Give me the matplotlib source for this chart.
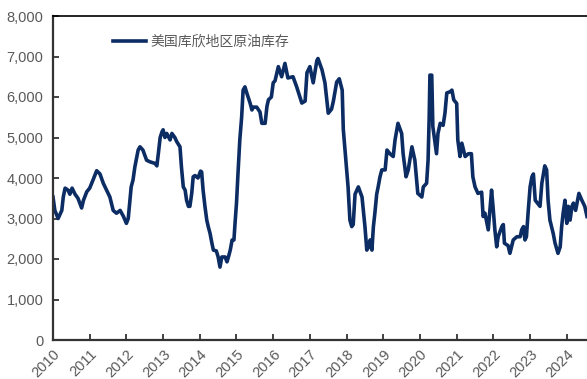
import matplotlib.pyplot as plt
from matplotlib.ticker import FuncFormatter

# 美国库欣地区原油库存 (decimal years)
years = [
    2010.00, 2010.05, 2010.14, 2010.24, 2010.28, 2010.33, 2010.41, 2010.46, 2010.52, 2010.60,
    2010.68, 2010.78, 2010.83, 2010.92, 2011.00, 2011.09, 2011.19, 2011.28, 2011.37, 2011.46,
    2011.55, 2011.64, 2011.73, 2011.83, 2011.92, 2012.00, 2012.05, 2012.08, 2012.13, 2012.18,
    2012.23, 2012.32, 2012.37, 2012.45, 2012.55, 2012.64, 2012.78, 2012.83, 2012.87, 2012.92,
    2012.97, 2013.00, 2013.05, 2013.10, 2013.19, 2013.24, 2013.32, 2013.37, 2013.46, 2013.50,
    2013.55, 2013.60, 2013.64, 2013.69, 2013.73, 2013.78, 2013.82, 2013.87, 2013.95, 2014.02,
    2014.05, 2014.09, 2014.14, 2014.19, 2014.23, 2014.28, 2014.33, 2014.37, 2014.45, 2014.50,
    2014.55, 2014.60, 2014.69, 2014.74, 2014.78, 2014.83, 2014.88, 2014.93, 2014.96, 2015.00,
    2015.04, 2015.09, 2015.14, 2015.18, 2015.23, 2015.28, 2015.37, 2015.42, 2015.46, 2015.55,
    2015.64, 2015.69, 2015.78, 2015.83, 2015.87, 2015.95, 2016.00, 2016.05, 2016.14, 2016.23,
    2016.32, 2016.40, 2016.54, 2016.64, 2016.78, 2016.87, 2016.92, 2017.00, 2017.09, 2017.19,
    2017.22, 2017.33, 2017.41, 2017.50, 2017.59, 2017.64, 2017.73, 2017.80, 2017.88, 2017.91,
    2017.95, 2018.04, 2018.09, 2018.14, 2018.18, 2018.23, 2018.32, 2018.42, 2018.50, 2018.55,
    2018.60, 2018.64, 2018.69, 2018.73, 2018.77, 2018.82, 2018.86, 2018.91, 2018.96, 2019.05,
    2019.10, 2019.18, 2019.27, 2019.32, 2019.40, 2019.50, 2019.54, 2019.62, 2019.68, 2019.78,
    2019.86, 2019.94, 2020.05, 2020.09, 2020.18, 2020.22, 2020.25, 2020.27, 2020.32, 2020.35,
    2020.45, 2020.49, 2020.55, 2020.63, 2020.68, 2020.73, 2020.82, 2020.87, 2020.92, 2021.00,
    2021.03, 2021.09, 2021.14, 2021.23, 2021.32, 2021.40, 2021.44, 2021.50, 2021.58, 2021.68,
    2021.72, 2021.77, 2021.86, 2021.95, 2021.99, 2022.04, 2022.09, 2022.13, 2022.23, 2022.27,
    2022.30, 2022.40, 2022.45, 2022.54, 2022.64, 2022.73, 2022.77, 2022.82, 2022.86, 2022.90,
    2022.95, 2023.00, 2023.05, 2023.09, 2023.14, 2023.27, 2023.32, 2023.40, 2023.45, 2023.49,
    2023.54, 2023.63, 2023.68, 2023.76, 2023.82, 2023.86, 2023.90, 2023.95, 2024.00, 2024.04,
    2024.09, 2024.14, 2024.18, 2024.24, 2024.33, 2024.41, 2024.49, 2024.55,
]
stocks = [
    3530, 3200, 3000, 3200, 3530, 3750, 3700, 3600, 3750, 3600,
    3500, 3260, 3450, 3660, 3750, 3950, 4180, 4100, 3870, 3700,
    3530, 3200, 3130, 3200, 3050, 2880, 3000, 3300, 3780, 3950,
    4270, 4690, 4770, 4690, 4440, 4400, 4360, 4300, 4600, 5000,
    5140, 5190, 5000, 5100, 4940, 5100, 5000, 4900, 4770, 4270,
    3780, 3700, 3450, 3300, 3300, 3620, 4030, 4060, 4000, 4170,
    4150, 3700, 3300, 2960, 2800, 2630, 2390, 2220, 2200, 2050,
    1800, 2050, 2050, 1930, 2050, 2220, 2470, 2470, 2880, 3380,
    4100, 4940, 5500, 6170, 6250, 6100, 5850, 5680, 5750, 5750,
    5630, 5350, 5350, 5770, 5930, 6000, 6350, 6400, 6750, 6500,
    6830, 6470, 6500, 6250, 5850, 5900, 6600, 6750, 6350, 6900,
    6950, 6670, 6350, 5600, 5700, 5900, 6370, 6450, 6170, 5200,
    4770, 3780, 2960, 2800, 2850, 3600, 3780, 3530, 2800, 2220,
    2300, 2470, 2220, 2800, 3130, 3600, 3780, 4030, 4200, 4200,
    4690, 4600, 4530, 4940, 5350, 5100, 4600, 4030, 4200, 4770,
    4440, 3620, 3530, 3780, 3870, 4440, 5500, 6540, 6540, 5270,
    4600, 5100, 5350, 5300, 5600, 6100, 6130, 6170, 5930, 5840,
    4940, 4530, 4860, 4530, 4600, 4600, 4030, 3780, 3620, 3650,
    3050, 3130, 2720, 3700, 3290, 2720, 2300, 2550, 2800, 2850,
    2390, 2330, 2140, 2470, 2550, 2550, 2720, 2800, 2470, 2550,
    3200, 3780, 4030, 4100, 3450, 3300, 3870, 4300, 4200, 3450,
    2960, 2630, 2390, 2140, 2300, 2800, 3130, 3450, 2880, 3300,
    2960, 3300, 3380, 3200, 3620, 3450, 3300, 3050,
]
year_ticks = list(range(2010, 2025))
y_ticks = list(range(0, 8001, 1000))

plt.rcParams['font.family'] = ['Liberation Sans', 'Noto Sans CJK SC', 'DejaVu Sans']

fig = plt.figure(figsize=(5.87, 3.79), dpi=100)
ax = fig.add_axes([53 / 587, 1 - 340 / 379, 1 - 53 / 587, 324 / 379])

ax.plot(years, stocks, color='#0c2c64', lw=2.6, label='美国库欣地区原油库存')

ax.set_xlim(2010, 2010 + 534 / 36.7)
ax.set_ylim(0, 8000)
ax.set_xticks(year_ticks)
ax.set_xticklabels([str(y) for y in year_ticks], rotation=45, ha='right', rotation_mode='anchor')
ax.set_yticks(y_ticks)
ax.yaxis.set_major_formatter(FuncFormatter(lambda v, p: f'{int(v):,}'))

ax.tick_params(axis='both', direction='in', length=4, width=1.2, colors='#222222',
               labelcolor='#595959', labelsize=10.5)
ax.tick_params(axis='y', pad=7)
ax.tick_params(axis='x', pad=5)

ax.spines['right'].set_visible(False)
ax.spines['top'].set_color('black')
ax.spines['top'].set_linewidth(1.2)
for s in ['left', 'bottom']:
    ax.spines[s].set_color('#333333')
    ax.spines[s].set_linewidth(1.6)

leg = ax.legend(loc='center left', bbox_to_anchor=(0.112, 0.92), frameon=False,
                handlelength=2.4, handletextpad=0.3, borderpad=0, borderaxespad=0,
                prop={'family': ['Noto Sans CJK SC'], 'size': 10})
for t in leg.get_texts():
    t.set_color('#595959')

plt.savefig('out.png', dpi=100)
